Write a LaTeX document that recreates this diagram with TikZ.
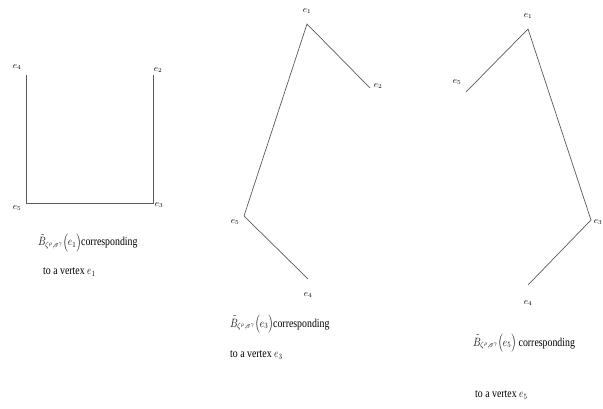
\documentclass[tikz,border=0pt]{standalone}
\usepackage{fontspec}
\setmainfont{Liberation Serif}
\begin{document}
\begin{tikzpicture}[x=1pt,y=-1pt,
  edge/.style={draw=black!65,line width=0.7pt},
  vlab/.style={font=\fontsize{9}{10}\selectfont,inner sep=0pt},
  captxt/.style={font=\fontsize{12}{14}\selectfont,inner sep=0pt,anchor=west,xscale=0.82}]
\useasboundingbox (0,0) rectangle (603,409);
% Diagram 1
\coordinate (a4) at (26,75);
\coordinate (a2) at (153,75);
\coordinate (a5) at (26,203);
\coordinate (a3) at (153,203);
\draw[edge] (a4) -- (a5) -- (a3) -- (a2);
\node[vlab] (la4) at (17,67) {$e_4$};
\node[vlab] (la2) at (158,70) {$e_2$};
\node[vlab] (la5) at (17,208) {$e_5$};
\node[vlab] (la3) at (159,205) {$e_3$};
\node[captxt] (ca1) at (38,243) {$\tilde{B}_{\zeta^{\rho},\sigma^{\gamma}}\Bigl(e_1\Bigr)$corresponding};
\node[captxt] (ca2) at (43,272) {to a vertex $e_1$};
% Diagram 2
\coordinate (b1) at (307,24);
\coordinate (b2) at (370,88);
\coordinate (b5) at (244,216);
\coordinate (b4) at (308,279);
\draw[edge] (b2) -- (b1) -- (b5) -- (b4);
\node[vlab] (lb1) at (307,11) {$e_1$};
\node[vlab] (lb2) at (378,86) {$e_2$};
\node[vlab] (lb5) at (235,222) {$e_5$};
\node[vlab] (lb4) at (308,295) {$e_4$};
\node[captxt] (cb1) at (230,324) {$\tilde{B}_{\zeta^{\rho},\sigma^{\gamma}}\Bigl(e_3\Bigr)$corresponding};
\node[captxt] (cb2) at (230,355) {to a vertex $e_3$};
% Diagram 3
\coordinate (c1) at (528,29);
\coordinate (c5) at (466,92);
\coordinate (c3) at (591,220);
\coordinate (c4) at (528,285);
\draw[edge] (c5) -- (c1) -- (c3) -- (c4);
\node[vlab] (lc1) at (528,16) {$e_1$};
\node[vlab] (lc5) at (457,82) {$e_5$};
\node[vlab] (lc3) at (598,222) {$e_3$};
\node[vlab] (lc4) at (528,303) {$e_4$};
\node[captxt] (cc1) at (473,343) {$\tilde{B}_{\zeta^{\rho},\sigma^{\gamma}}\Bigl(e_5\Bigr)$ corresponding};
\node[captxt] (cc2) at (475,395) {to a vertex $e_5$};
\end{tikzpicture}
\end{document}
